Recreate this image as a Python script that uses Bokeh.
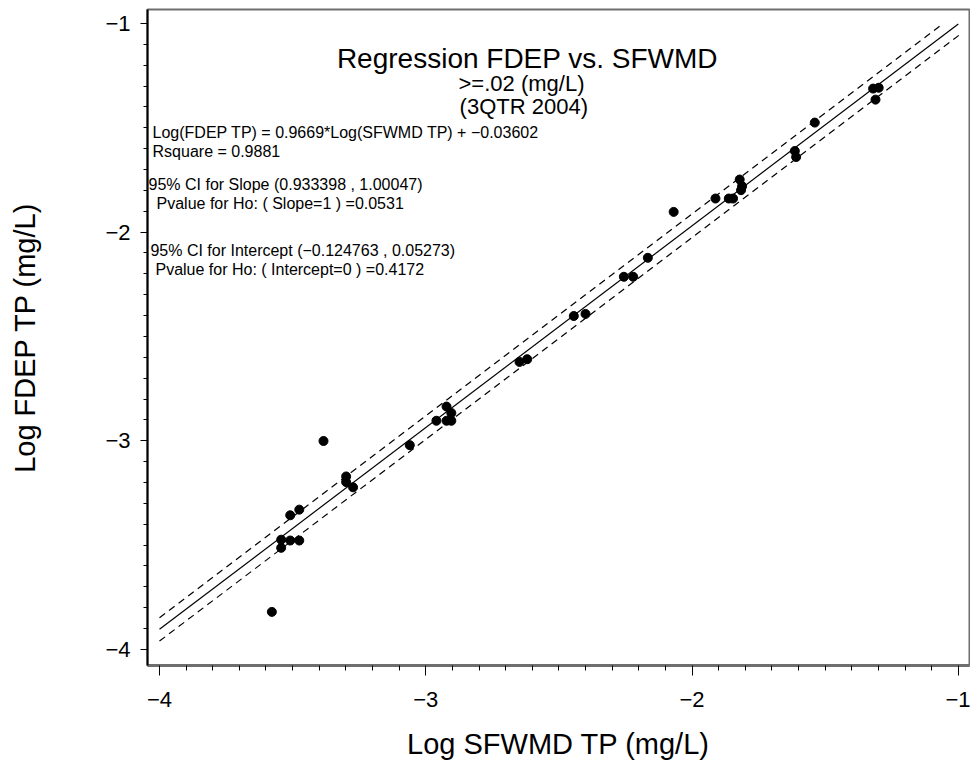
import numpy as np
from bokeh.plotting import figure
from bokeh.models import Range1d, FixedTicker, Label
from bokeh.embed import file_html
from bokeh.resources import INLINE

# ---- data ----
sfwmd = [-3.578, -3.543, -3.543, -3.509, -3.475, -3.509, -3.475, -3.384,
         -3.299, -3.299, -3.273, -3.060, -2.960, -2.922, -2.922, -2.904,
         -2.904, -2.648, -2.619, -2.444, -2.400, -2.256, -2.221, -2.166,
         -2.069, -1.912, -1.862, -1.846, -1.821, -1.812, -1.816, -1.614,
         -1.609, -1.539, -1.320, -1.299, -1.311]
fdep = [-3.820, -3.474, -3.513, -3.478, -3.478, -3.357, -3.330, -3.001,
        -3.171, -3.198, -3.223, -3.021, -2.904, -2.836, -2.904, -2.867,
        -2.904, -2.622, -2.609, -2.402, -2.392, -2.214, -2.214, -2.123,
        -1.903, -1.839, -1.839, -1.839, -1.748, -1.780, -1.799, -1.611,
        -1.640, -1.475, -1.312, -1.308, -1.365]

slope = 0.9669
intercept = -0.03602
reg_x = [-4.0, -1.0]
reg_y = [slope * v + intercept for v in reg_x]
upper_x = [-4.0, -1.067]
upper_y = [-3.848, -1.010]
lower_x = [-4.0, -0.998]
lower_y = [-3.960, -1.057]

x_ticks = [-4, -3, -2, -1]
x_tick_labels = ["\u22124", "\u22123", "\u22122", "\u22121"]
y_ticks = [-4, -3, -2, -1]
y_tick_labels = ["\u22124", "\u22123", "\u22122", "\u22121"]

title_lines = ["Regression FDEP vs. SFWMD", ">=.02 (mg/L)", "(3QTR 2004)"]
stat_lines = [
    "Log(FDEP TP) = 0.9669*Log(SFWMD TP) + \u22120.03602",
    "Rsquare = 0.9881",
    "95% CI for Slope (0.933398 , 1.00047)",
    "Pvalue for Ho: ( Slope=1 ) =0.0531",
    "95% CI for Intercept (\u22120.124763 , 0.05273)",
    "Pvalue for Ho: ( Intercept=0 ) =0.4172",
]

FONT = "Liberation Sans"

p = figure(width=970, height=762, output_backend="svg", toolbar_location=None,
           x_range=Range1d(-4.045, -0.958), y_range=Range1d(-4.077, -0.933),
           min_border_left=147, min_border_right=1, min_border_top=9,
           min_border_bottom=96)
p.grid.visible = False
p.outline_line_color = "#6e6e6e"
p.outline_line_width = 2
p.background_fill_color = "white"
p.border_fill_color = "white"

# axes
minor = [round(-4 + 0.1 * i, 1) for i in range(31)]
minor = [m for m in minor if m not in (-4.0, -3.0, -2.0, -1.0)]
p.xaxis.ticker = FixedTicker(ticks=x_ticks, minor_ticks=minor)
p.yaxis.ticker = FixedTicker(ticks=y_ticks, minor_ticks=minor)
p.xaxis.major_label_overrides = dict(zip(x_ticks, x_tick_labels))
p.yaxis.major_label_overrides = dict(zip(y_ticks, y_tick_labels))

for ax in (p.xaxis[0], p.yaxis[0]):
    ax.major_label_text_font = FONT
    ax.major_label_text_font_size = "22px"
    ax.major_label_text_color = "black"
    ax.axis_label_text_font = FONT
    ax.axis_label_text_font_style = "normal"
    ax.axis_label_text_font_size = "29px"
    ax.axis_label_text_color = "black"
    ax.major_tick_line_color = "black"
    ax.minor_tick_line_color = "black"
    ax.major_tick_in = 0
    ax.minor_tick_in = 0

p.xaxis.axis_label = "Log SFWMD TP (mg/L)"
p.yaxis.axis_label = "Log FDEP TP (mg/L)"
p.xaxis.major_tick_out = 10
p.xaxis.minor_tick_out = 5
p.yaxis.major_tick_out = 7
p.yaxis.minor_tick_out = 4
p.xaxis.axis_line_color = "#6e6e6e"
p.xaxis.axis_line_width = 3
p.yaxis.axis_line_color = "black"
p.yaxis.axis_line_width = 2
p.xaxis.major_label_standoff = 16
p.xaxis.axis_label_standoff = 18
p.yaxis.major_label_standoff = 10
p.yaxis.axis_label_standoff = 61

# lines
p.line(reg_x, reg_y, line_color="black", line_width=1.2)
p.line(upper_x, upper_y, line_color="black", line_width=1.2, line_dash="7 5")
p.line(lower_x, lower_y, line_color="black", line_width=1.2, line_dash="7 5")

# points
p.scatter(sfwmd, fdep, size=9, marker="circle", fill_color="black",
          line_color="black")

# title block
p.add_layout(Label(x=-2.618, y=-1.167, text=title_lines[0], text_align="center",
                   text_baseline="alphabetic", text_font=FONT,
                   text_font_size="28px", text_color="black"))
p.add_layout(Label(x=-2.877, y=-1.287, text=title_lines[1], text_align="left",
                   text_baseline="alphabetic", text_font=FONT,
                   text_font_size="22px", text_color="black"))
p.add_layout(Label(x=-2.873, y=-1.397, text=title_lines[2], text_align="left",
                   text_baseline="alphabetic", text_font=FONT,
                   text_font_size="22px", text_color="black"))

# statistics block
stat_pos = [(-4.026, -1.522), (-4.026, -1.612), (-4.041, -1.770),
            (-4.011, -1.861), (-4.034, -2.086), (-4.015, -2.177)]
for (sx, sy), txt in zip(stat_pos, stat_lines):
    p.add_layout(Label(x=sx, y=sy, text=txt, text_align="left",
                       text_baseline="alphabetic", text_font=FONT,
                       text_font_size="16px", text_color="black"))

open("out.html", "w").write(file_html(p, INLINE))
